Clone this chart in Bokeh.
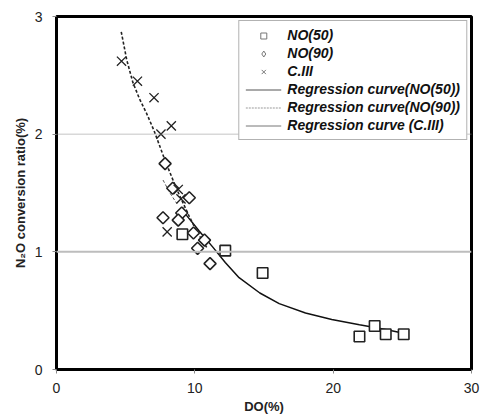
from bokeh.plotting import figure
from bokeh.models import Span, Legend, LegendItem, Range1d, FixedTicker
from bokeh.embed import file_html
from bokeh.resources import INLINE

no50_x = [9.1, 12.2, 14.9, 21.9, 23.0, 23.8, 25.1]
no50_y = [1.15, 1.01, 0.82, 0.28, 0.37, 0.30, 0.30]

no90_x = [7.85, 8.4, 9.6, 7.7, 9.05, 8.8, 9.9, 10.7, 10.2, 11.1]
no90_y = [1.75, 1.54, 1.46, 1.29, 1.33, 1.27, 1.16, 1.10, 1.03, 0.90]

c3_x = [4.7, 5.85, 7.05, 7.55, 8.3, 8.8, 9.0, 8.0]
c3_y = [2.62, 2.45, 2.31, 2.00, 2.07, 1.53, 1.45, 1.17]

# Regression curves
fit50_x = [9.1, 9.4, 10.3, 11.3, 12.2, 13.2, 14.7, 16.1, 18.0, 19.9, 21.9, 23.8, 25.0]
fit50_y = [1.38, 1.31, 1.18, 1.04, 0.91, 0.78, 0.65, 0.56, 0.48, 0.425, 0.38, 0.34, 0.31]

fit90_x = [4.68, 5.08, 5.52, 6.0, 6.5, 7.05, 7.9, 8.7, 9.6, 10.2, 10.9]
fit90_y = [2.87, 2.63, 2.44, 2.30, 2.18, 2.03, 1.76, 1.53, 1.30, 1.16, 1.03]

fitc3_x = [7.7, 8.2, 8.7]
fitc3_y = [1.61, 1.50, 1.41]

x_ticks = [0, 10, 20, 30]
y_ticks = [0, 1, 2, 3]
grid_levels = [1, 2]

FONT = "Liberation Sans"
NAN = [float("nan")]

p = figure(width=480, height=417, output_backend="svg", toolbar_location=None,
           x_range=Range1d(0, 30), y_range=Range1d(0, 3),
           min_border_left=56, min_border_top=16, min_border_right=9, min_border_bottom=48)

p.xgrid.visible = False
p.ygrid.visible = False
p.outline_line_color = "black"
p.outline_line_width = 3
p.background_fill_color = "white"
p.border_fill_color = "white"

# grid lines
p.add_layout(Span(location=grid_levels[0], dimension="width", line_color="#bdbdbd", line_width=2))
p.add_layout(Span(location=grid_levels[1], dimension="width", line_color="#888888", line_width=1, line_dash="1 1"))

for ax in (p.xaxis[0], p.yaxis[0]):
    ax.axis_line_color = "black"
    ax.axis_line_width = 3
    ax.major_tick_line_color = "#888888"
    ax.major_tick_line_width = 1
    ax.major_tick_in = 0
    ax.major_tick_out = 4
    ax.minor_tick_line_color = None
    ax.major_label_text_font = FONT
    ax.major_label_text_font_size = "14px"
    ax.major_label_text_color = "#222222"
    ax.axis_label_text_font = FONT
    ax.axis_label_text_font_style = "bold"
    ax.axis_label_text_font_size = "13px"
    ax.axis_label_text_color = "#222222"

p.xaxis.ticker = FixedTicker(ticks=x_ticks)
p.yaxis.ticker = FixedTicker(ticks=y_ticks)
p.xaxis.axis_label = "DO(%)"
p.yaxis.axis_label = "N\u2082O conversion ratio(%)"
p.xaxis.major_label_standoff = 9
p.xaxis.axis_label_standoff = 3
p.yaxis.major_label_standoff = 10
p.yaxis.axis_label_standoff = 4

# curves
l50 = p.line(fit50_x, fit50_y, line_color="#111111", line_width=1.5)
l90 = p.line(fit90_x, fit90_y, line_color="#222222", line_width=1.6, line_dash="3 2")
lc3 = p.line(fitc3_x, fitc3_y, line_color="#555555", line_width=1, line_dash="3 2")

# points
s50 = p.scatter(no50_x, no50_y, marker="square", size=10.5, fill_color="white",
                line_color="#222222", line_width=1.6)
s90 = p.scatter(no90_x, no90_y, marker="square", angle=0.7854, size=8.5, fill_color="white",
                line_color="#222222", line_width=1.6)
sc3 = p.scatter(c3_x, c3_y, marker="x", size=13, line_color="#222222", line_width=1.3)

# legend-only glyphs (small gray symbols as in the reference legend)
g50 = p.scatter(NAN, NAN, marker="square", size=9, fill_color="white", line_color="#777777", line_width=1)
g90 = p.scatter(NAN, NAN, marker="diamond", size=12, fill_color="white", line_color="#777777", line_width=1)
gc3 = p.scatter(NAN, NAN, marker="x", size=7, line_color="#777777", line_width=1)
gl3 = p.line(NAN, NAN, line_color="#777777", line_width=1)
gl90 = p.line(NAN, NAN, line_color="#999999", line_width=1, line_dash="2 1")
gl50 = p.line(NAN, NAN, line_color="#555555", line_width=1)

legend = Legend(items=[
    LegendItem(label="NO(50)", renderers=[g50]),
    LegendItem(label="NO(90)", renderers=[g90]),
    LegendItem(label="C.III", renderers=[gc3]),
    LegendItem(label="Regression curve(NO(50))", renderers=[gl50]),
    LegendItem(label="Regression curve(NO(90))", renderers=[gl90]),
    LegendItem(label="Regression curve (C.III)", renderers=[gl3]),
], location="top_right")
legend.margin = 4
legend.padding = 6
legend.spacing = 2
legend.glyph_width = 36
legend.glyph_height = 15
legend.label_height = 15
legend.label_standoff = 6
legend.label_text_font = FONT
legend.label_text_font_style = "bold italic"
legend.label_text_font_size = "14px"
legend.label_text_color = "#111111"
legend.border_line_color = "#666666"
legend.border_line_width = 1.5
legend.background_fill_alpha = 1
p.add_layout(legend)

open("out.html", "w").write(file_html(p, INLINE))
